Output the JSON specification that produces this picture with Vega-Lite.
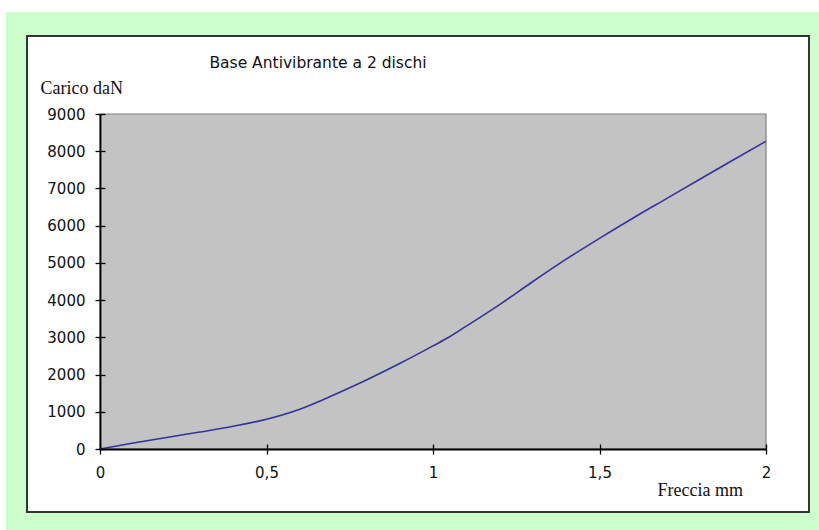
{
  "$schema": "https://vega.github.io/schema/vega-lite/v6.json",
  "width": 666,
  "height": 335,
  "autosize": {"type": "none"},
  "padding": {"left": 100, "top": 114, "right": 53, "bottom": 81},
  "background": "white",
  "config": {"view": {"stroke": null}},
  "datasets": {
    "curve": [
      {"freccia": 0.0, "carico": 0},
      {"freccia": 0.1, "carico": 160},
      {"freccia": 0.2, "carico": 310},
      {"freccia": 0.3, "carico": 455},
      {"freccia": 0.4, "carico": 610},
      {"freccia": 0.5, "carico": 800},
      {"freccia": 0.6, "carico": 1070},
      {"freccia": 0.7, "carico": 1445},
      {"freccia": 0.8, "carico": 1855},
      {"freccia": 0.9, "carico": 2297},
      {"freccia": 1.0, "carico": 2770},
      {"freccia": 1.05, "carico": 3015},
      {"freccia": 1.1, "carico": 3300},
      {"freccia": 1.2, "carico": 3880},
      {"freccia": 1.3, "carico": 4500},
      {"freccia": 1.4, "carico": 5100},
      {"freccia": 1.5, "carico": 5660},
      {"freccia": 1.6, "carico": 6200},
      {"freccia": 1.7, "carico": 6720},
      {"freccia": 1.8, "carico": 7240},
      {"freccia": 1.9, "carico": 7757},
      {"freccia": 2.0, "carico": 8270}
    ]
  },
  "layer": [
    {
      "data": {"values": [{}]},
      "mark": {"type": "rect", "fill": "#ccffcc", "clip": false},
      "encoding": {
        "x": {"datum": -0.2823, "type": "quantitative", "scale": {"domain": [0, 2], "nice": false}, "axis": null},
        "x2": {"datum": 2.2},
        "y": {"datum": 11740, "type": "quantitative", "scale": {"domain": [0, 9000], "nice": false}, "axis": null},
        "y2": {"datum": -2400}
      }
    },
    {
      "data": {"values": [{}]},
      "mark": {"type": "rect", "fill": "white", "stroke": "#333333", "strokeWidth": 2, "clip": false},
      "encoding": {
        "x": {"datum": -0.2192, "type": "quantitative", "scale": {"domain": [0, 2], "nice": false}, "axis": null},
        "x2": {"datum": 2.1291},
        "y": {"datum": 11096, "type": "quantitative", "scale": {"domain": [0, 9000], "nice": false}, "axis": null},
        "y2": {"datum": -1693}
      }
    },
    {
      "data": {"values": [{}]},
      "mark": {"type": "text", "text": "Base Antivibrante a 2 dischi", "align": "center", "baseline": "alphabetic",
               "font": "DejaVu Sans", "fontSize": 15.5, "color": "#111111", "clip": false},
      "encoding": {
        "x": {"datum": 0.6547, "type": "quantitative", "scale": {"domain": [0, 2], "nice": false}, "axis": null},
        "y": {"datum": 10236, "type": "quantitative", "scale": {"domain": [0, 9000], "nice": false}, "axis": null}
      }
    },
    {
      "data": {"values": [{}]},
      "mark": {"type": "rect", "fill": "#c3c3c3", "stroke": "#808080", "strokeWidth": 1.2, "clip": false},
      "encoding": {
        "x": {"datum": 0, "type": "quantitative", "scale": {"domain": [0, 2], "nice": false}, "axis": null},
        "x2": {"datum": 2},
        "y": {"datum": 0, "type": "quantitative", "scale": {"domain": [0, 9000], "nice": false}, "axis": null},
        "y2": {"datum": 9000}
      }
    },
    {
      "data": {"name": "curve"},
      "mark": {"type": "line", "opacity": 0},
      "encoding": {
        "x": {
          "field": "freccia", "type": "quantitative",
          "scale": {"domain": [0, 2], "nice": false},
          "axis": {"orient": "bottom", "labels": false, "domain": false, "grid": false, "title": null,
                   "values": [0, 0.5, 1, 1.5, 2], "tickSize": -5, "tickColor": "black", "tickWidth": 1.3, "zindex": 1}
        },
        "y": {
          "field": "carico", "type": "quantitative",
          "scale": {"domain": [0, 9000], "nice": false},
          "axis": {"orient": "left", "labels": false, "domain": false, "grid": false, "title": null,
                   "values": [0, 1000, 2000, 3000, 4000, 5000, 6000, 7000, 8000, 9000], "tickSize": -5, "tickColor": "black", "tickWidth": 1.3, "zindex": 1}
        }
      }
    },
    {
      "data": {"name": "curve"},
      "mark": {"type": "line", "color": "#33339a", "strokeWidth": 1.6, "interpolate": "monotone"},
      "encoding": {
        "x": {
          "field": "freccia", "type": "quantitative",
          "scale": {"domain": [0, 2], "nice": false},
          "axis": {
            "orient": "bottom",
            "values": [0, 0.5, 1, 1.5, 2],
            "format": "~g",
            "labelExpr": "replace(datum.label, '.', ',')",
            "labelFlush": false,
            "labelOverlap": false,
            "labelFont": "DejaVu Sans",
            "labelFontSize": 15,
            "labelColor": "#111111",
            "labelBaseline": "alphabetic",
            "labelPadding": 23,
            "tickSize": 5,
            "tickColor": "black",
            "tickWidth": 1.3,
            "domainColor": "black",
            "domainWidth": 1.8,
            "grid": false,
            "zindex": 1,
            "title": "Freccia mm",
            "titleFont": "Liberation Serif",
            "titleFontSize": 18,
            "titleFontWeight": "normal",
            "titleColor": "#111111",
            "titleAlign": "left",
            "titleBaseline": "alphabetic",
            "titleAnchor": null,
            "titleX": 557,
            "titleY": 46
          }
        },
        "y": {
          "field": "carico", "type": "quantitative",
          "scale": {"domain": [0, 9000], "nice": false},
          "axis": {
            "orient": "left",
            "values": [0, 1000, 2000, 3000, 4000, 5000, 6000, 7000, 8000, 9000],
            "format": "d",
            "labelFlush": false,
            "labelOverlap": false,
            "labelFont": "DejaVu Sans",
            "labelFontSize": 15,
            "labelColor": "#111111",
            "labelPadding": 10,
            "tickSize": 5,
            "tickColor": "black",
            "tickWidth": 1.3,
            "domainColor": "black",
            "domainWidth": 1.8,
            "grid": false,
            "zindex": 1,
            "title": "Carico daN",
            "titleFont": "Liberation Serif",
            "titleFontSize": 18,
            "titleFontWeight": "normal",
            "titleColor": "#111111",
            "titleAngle": 0,
            "titleAlign": "left",
            "titleBaseline": "alphabetic",
            "titleAnchor": null,
            "titleX": -60,
            "titleY": -21
          }
        }
      }
    }
  ],
  "resolve": {"axis": {"x": "independent", "y": "independent"}}
}
